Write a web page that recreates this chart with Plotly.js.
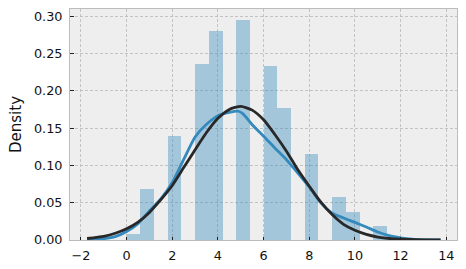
<!DOCTYPE html>
<html>
<head>
<meta charset="utf-8">
<script src="https://cdn.plot.ly/plotly-3.0.1.min.js"></script>
<style>html,body{margin:0;padding:0;background:#fff;}#chart{width:466px;height:269px;}</style>
</head>
<body>
<div id="chart"></div>
<script>
// Histogram bins (left edges) and density heights
const binLeft = [0, 0.6, 1.8, 3.0, 3.6, 4.8, 6.0, 6.6, 7.8, 9.0, 9.6, 10.8];
const binWidth = 0.6;
const density = [0.008, 0.068, 0.140, 0.236, 0.280, 0.295, 0.233, 0.177, 0.115, 0.057, 0.037, 0.019];

// KDE curve (blue)
const kdeX = [-1.73, -1.5, -1, -0.5, 0, 0.5, 1, 1.5, 2, 2.5, 3, 3.5, 4, 4.5, 4.9, 5.1, 5.5, 6, 6.5, 7, 7.5, 8, 8.5, 9, 9.5, 10, 10.5, 11, 11.5, 12, 12.5, 13, 13.75];
const kdeY = [0.0004, 0.0007, 0.0018, 0.0045, 0.0115, 0.022, 0.039, 0.055, 0.077, 0.108, 0.138, 0.155, 0.1665, 0.171, 0.1725, 0.169, 0.1545, 0.139, 0.123, 0.1076, 0.0898, 0.071, 0.050, 0.036, 0.0295, 0.0236, 0.0174, 0.0107, 0.0058, 0.003, 0.0012, 0.0005, 0.0001];

// Fitted normal curve (black)
const fitX = [-1.73, -1, -0.5, 0, 0.5, 1, 1.5, 2, 2.5, 3, 3.5, 4, 4.5, 5, 5.5, 6, 6.5, 7, 7.5, 8, 8.5, 9, 9.5, 10, 10.5, 11, 11.5, 12, 13, 13.75];
const fitY = [0.002, 0.005, 0.009, 0.015, 0.024, 0.037, 0.054, 0.073, 0.097, 0.121, 0.144, 0.163, 0.175, 0.179, 0.174, 0.161, 0.141, 0.119, 0.094, 0.072, 0.051, 0.034, 0.021, 0.013, 0.0075, 0.004, 0.002, 0.001, 0.0003, 0.0001];

const xTicks = [-2, 0, 2, 4, 6, 8, 10, 12, 14];
const yTicks = [0, 0.05, 0.10, 0.15, 0.20, 0.25, 0.30];

const font = {family: 'DejaVu Sans, sans-serif', size: 12.8, color: '#111111'};

const traces = [
  {
    type: 'bar',
    x: binLeft,
    y: density,
    width: binWidth,
    offset: 0,
    marker: {color: 'rgba(52,138,189,0.4)', line: {width: 0}},
    hoverinfo: 'skip'
  },
  {
    type: 'scatter', mode: 'lines',
    x: kdeX, y: kdeY,
    line: {color: '#348ABD', width: 2.8, shape: 'spline', smoothing: 0.6}
  },
  {
    type: 'scatter', mode: 'lines',
    x: fitX, y: fitY,
    line: {color: '#282828', width: 2.8, shape: 'spline', smoothing: 0.6}
  }
];

const axisCommon = {
  showline: true, mirror: true, linecolor: '#bcbcbc', linewidth: 1,
  showgrid: true, gridcolor: '#b8b8b8', gridwidth: 0.8, griddash: '3px,2px',
  zeroline: false,
  ticks: 'inside', ticklen: 3.5, tickwidth: 1, tickcolor: '#222',
  tickfont: font, ticklabelstandoff: 4
};

const layout = {
  width: 466, height: 269,
  margin: {l: 69.5, r: 9, t: 9.3, b: 28.7, pad: 0},
  paper_bgcolor: '#ffffff',
  plot_bgcolor: '#eeeeee',
  showlegend: false,
  bargap: 0,
  xaxis: Object.assign({}, axisCommon, {
    range: [-2.48, 14.47],
    tickmode: 'array', tickvals: xTicks, ticktext: xTicks.map(v => v < 0 ? '\u2212' + Math.abs(v) : String(v))
  }),
  yaxis: Object.assign({}, axisCommon, {
    range: [0, 0.3095],
    tickmode: 'array', tickvals: yTicks, ticktext: yTicks.map(v => v.toFixed(2)),
    title: {text: 'Density', font: {family: 'DejaVu Sans, sans-serif', size: 15, color: '#111111'}, standoff: 8}
  })
};

Plotly.newPlot('chart', traces, layout, {staticPlot: true, displayModeBar: false});
</script>
</body>
</html>
